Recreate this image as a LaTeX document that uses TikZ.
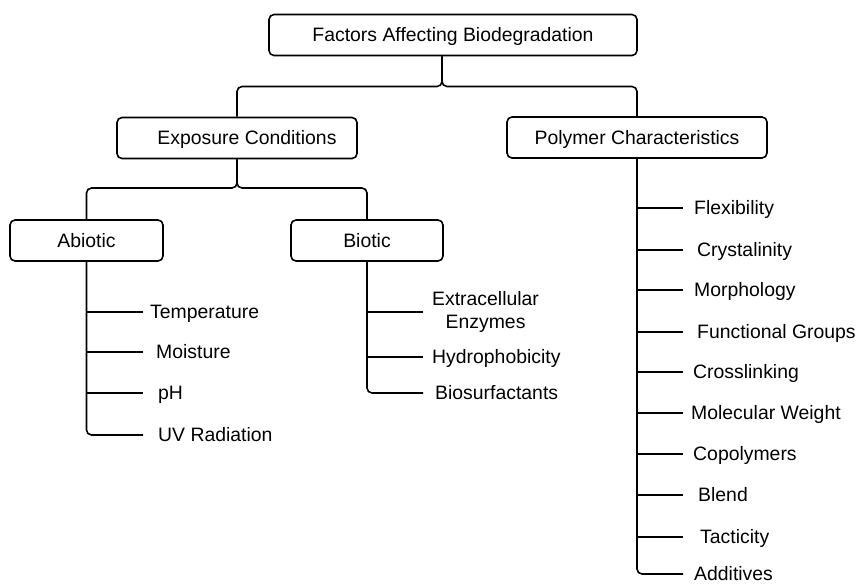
\documentclass[tikz,border=0pt]{standalone}
\usepackage{fontspec}
\setmainfont{Liberation Sans}
\begin{document}
\begin{tikzpicture}[x=1pt,y=-1pt,
  font=\fontsize{19.4}{23}\selectfont,
  box/.style={draw, line width=1.6pt, rounded corners=5pt, minimum height=41pt, inner sep=0pt, text height=13.9pt, text depth=0pt},
  conn/.style={line width=1.6pt, rounded corners=5pt},
  leaf/.style={anchor=west, inner ysep=0pt, inner xsep=7pt, text height=13.9pt, text depth=0pt}]
\useasboundingbox (0,0) rectangle (857,584);
\fill[white] (0,0) rectangle (857,584);
% boxes
\node[box, minimum width=368pt] (root) at (453,35) {Factors Affecting Biodegradation};
\node[box, minimum width=240pt] (exp) at (237,138) {\hspace*{20pt}Exposure Conditions};
\node[box, minimum width=260pt] (poly) at (637,137.5) {Polymer Characteristics};
\node[box, minimum width=153pt] (abi) at (86.5,240.5) {Abiotic};
\node[box, minimum width=152pt] (bio) at (367,240.5) {Biotic};
% top connectors
\coordinate (rs) at ([xshift=-11pt]root.south);
\coordinate (j1) at (442,86.5);
\draw[conn] (rs) |- (exp.north |- j1) -- (exp.north);
\draw[conn] (rs) |- (poly.north |- j1) -- (poly.north);
\coordinate (j2) at (237,188);
\draw[conn] (exp.south) |- (abi.north |- j2) -- (abi.north);
\draw[conn] (exp.south) |- (bio.north |- j2) -- (bio.north);
% abiotic leaves
\node[leaf] (temp) at (143,312) {Temperature};
\node[leaf, inner xsep=13pt] (moist) at (143,352) {Moisture};
\node[leaf, inner xsep=15pt] (ph) at (143,393) {pH};
\node[leaf, inner xsep=15pt] (uv) at (143,435) {UV Radiation};
\draw[conn] (abi.south) |- (uv.west);
\foreach \n in {temp,moist,ph} \draw[conn] (abi.south |- \n.west) -- (\n.west);
% biotic leaves
\node[leaf, inner xsep=9pt, align=center, text height=, text depth=] (extra) at (423,312) {Extracellular\\Enzymes};
\node[leaf, inner xsep=9pt] (hydro) at (423,357) {Hydrophobicity};
\node[leaf, inner xsep=12pt] (bios) at (423,393) {Biosurfactants};
\draw[conn] (bio.south) |- (bios.west);
\foreach \n in {extra,hydro} \draw[conn] (bio.south |- \n.west) -- (\n.west);
% polymer leaves
\node[leaf, inner xsep=11pt] (flex) at (683,208) {Flexibility};
\node[leaf, inner xsep=14pt] (crys) at (683,250) {Crystalinity};
\node[leaf, inner xsep=11pt] (morph) at (683,290) {Morphology};
\node[leaf, inner xsep=14pt] (func) at (683,332) {Functional Groups};
\node[leaf, inner xsep=10pt] (cross) at (683,372) {Crosslinking};
\node[leaf, inner xsep=8pt] (mol) at (683,413) {Molecular Weight};
\node[leaf, inner xsep=10pt] (copo) at (683,454) {Copolymers};
\node[leaf, inner xsep=15pt] (blend) at (683,495) {Blend};
\node[leaf, inner xsep=17pt] (tact) at (683,537) {Tacticity};
\node[leaf, inner xsep=11pt] (add) at (683,574) {Additives};
\draw[conn] (poly.south) |- (add.west);
\foreach \n in {flex,crys,morph,func,cross,mol,copo,blend,tact} \draw[conn] (poly.south |- \n.west) -- (\n.west);
\end{tikzpicture}
\end{document}
